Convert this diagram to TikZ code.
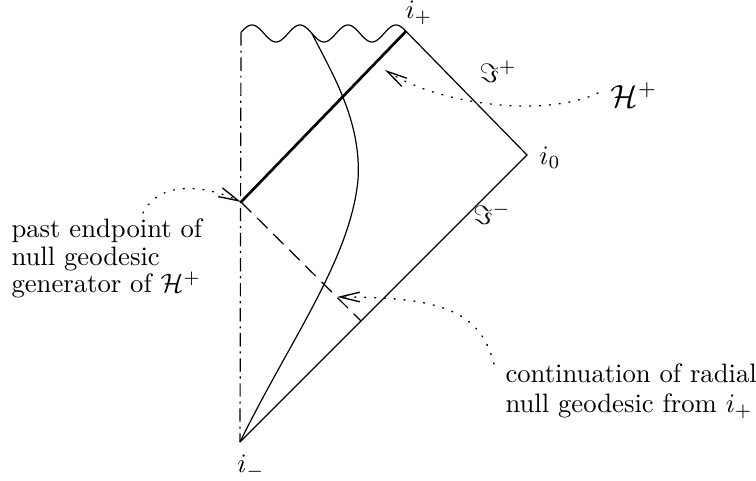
\documentclass[tikz,border=0pt]{standalone}
\usetikzlibrary{arrows.meta}
\begin{document}
\begin{tikzpicture}[x=0.375pt,y=-0.375pt,
  thin line/.style={line width=0.45pt},
  horizon/.style={line width=1pt},
  axisline/.style={line width=0.45pt, dash pattern=on 5pt off 1.8pt on 0.8pt off 1.8pt},
  contline/.style={line width=0.45pt, dash pattern=on 5.5pt off 3pt},
  pointer/.style={line width=0.5pt, dash pattern=on 0.4pt off 3.3pt, line cap=round,
     -{Straight Barb[length=7.5pt,width=3.6pt,line cap=butt]}},
  lbl/.style={inner sep=0pt},
  desc/.style={inner sep=0pt, align=left, anchor=north west}]
\useasboundingbox (0,0) rectangle (756,481);
% key points
\coordinate (im) at (240,442);
\coordinate (io) at (527,155);
\coordinate (ip) at (406,31.3);
\coordinate (wl) at (241,32.4);
\coordinate (pe) at (241,202);
\coordinate (ce) at (361,321);
\coordinate (ct) at (312,33.5);
\coordinate (cm) at (358,180);
% wavy singularity
\draw[thin line] plot[domain=241:406, samples=120, variable=\t] (\t,{33.5-8.5*cos((\t-252)*7.5)});
% r=0 axis
\draw[axisline] (wl) -- (im);
% null boundaries
\draw[thin line] (im) -- (io) -- (ip);
% horizon
\draw[horizon] (pe) -- (ip);
% continuation
\draw[contline] (pe) -- (ce);
% star surface
\draw[thin line] (im) .. controls (290,340) and (350,260) .. (cm)
                      .. controls (362,120) and (330,70) .. (ct);
% labels
\node[lbl] (lip) at (419,13) {$i_+$};
\node[lbl] (lio) at (550,158) {$i_0$};
\node[lbl] (lim) at (251,467) {$i_-$};
\node[lbl] (scrp) at (498,72) {$\Im^+$};
\node[lbl] (scrm) at (492,214) {$\Im^-$};
\node[lbl] (hp) at (634,95) {\large$\mathcal{H}^+$};
\node[desc, font=\fontsize{10pt}{10.4pt}\selectfont] (past) at (11,218) {past endpoint of\\null geodesic\\generator of $\mathcal{H}^+$};
\node[desc, font=\fontsize{10pt}{11.2pt}\selectfont] (cont) at (505,363.5) {continuation of radial\\null geodesic from $i_+$};
% pointers
\coordinate (hpa) at (385,70);
\coordinate (cea) at (337,297);
\draw[pointer] (598,93) .. controls (545,118) and (440,105) .. (hpa);
\draw[pointer] (143,213) .. controls (160,180) and (205,185) .. (pe);
\draw[pointer] (494,364) .. controls (480,310) and (440,297) .. (cea);
\end{tikzpicture}
\end{document}
